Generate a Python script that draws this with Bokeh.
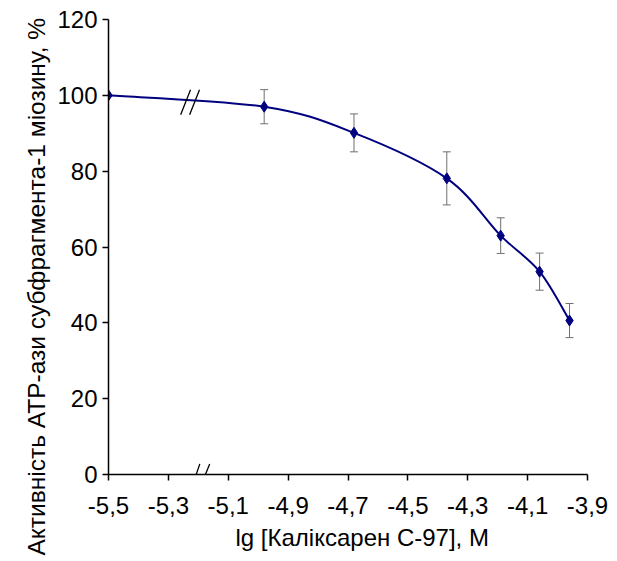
import numpy as np
from bokeh.plotting import figure
from bokeh.models import (ColumnDataSource, Range1d, FixedTicker, Whisker, TeeHead,
                          Title, Arrow, LinearAxis)
from bokeh.embed import file_html
from bokeh.resources import INLINE

# ---- data ----
log_conc = [-5.5, -4.98, -4.68, -4.37, -4.19, -4.06, -3.96]
activity = [100.0, 97.0, 90.1, 78.1, 63.0, 53.5, 40.6]
error = [0.0, 4.5, 5.0, 7.0, 4.7, 4.9, 4.5]

x_ticks = [-5.5, -5.3, -5.1, -4.9, -4.7, -4.5, -4.3, -4.1, -3.9]
x_tick_labels = ["-5,5", "-5,3", "-5,1", "-4,9", "-4,7", "-4,5", "-4,3", "-4,1", "-3,9"]
y_ticks = [0, 20, 40, 60, 80, 100, 120]

x_title = "lg [Каліксарен С-97], М"
y_title = "Активність АТР-ази субфрагмента-1 міозину, %"

FONT = "Liberation Sans"
NAVY = "#000080"

W, H = 617, 561
L, R, T, B = 108, 30, 19, 87
p = figure(width=W, height=H, x_range=Range1d(-5.5, -3.9), y_range=Range1d(0, 120),
           output_backend="svg", toolbar_location=None,
           min_border_left=L, min_border_right=R, min_border_top=T, min_border_bottom=B)
p.outline_line_color = None
p.grid.visible = False
p.background_fill_color = "white"
p.border_fill_color = "white"

# axes
for ax in (p.xaxis[0], p.yaxis[0]):
    ax.axis_line_color = "black"
    ax.axis_line_width = 1.5
    ax.major_tick_line_color = "black"
    ax.major_tick_line_width = 1.5
    ax.major_tick_in = 0
    ax.major_tick_out = 6
    ax.minor_tick_line_color = None
    ax.major_label_text_font = FONT
    ax.major_label_text_font_size = "24px"
    ax.major_label_text_color = "black"

p.xaxis[0].ticker = FixedTicker(ticks=x_ticks)
p.xaxis[0].major_label_overrides = {t: l for t, l in zip(x_ticks, x_tick_labels)}
p.xaxis[0].major_label_standoff = 16
p.yaxis[0].ticker = FixedTicker(ticks=y_ticks)
p.yaxis[0].major_label_standoff = 5

# invisible spacer axes that push the axis titles outward
def spacer(size):
    return LinearAxis(ticker=FixedTicker(ticks=[-1000.0]), axis_line_color=None,
                      major_tick_line_color=None, minor_tick_line_color=None,
                      major_tick_in=0, major_tick_out=size, minor_tick_in=0,
                      minor_tick_out=0, major_label_standoff=0)

p.add_layout(spacer(9), "left")
p.add_layout(spacer(8), "below")

# ---- smoothed curve (Bezier through the data points) ----
xs = np.array(log_conc)
ys = np.array(activity)
n = len(xs)
xp = np.concatenate([[xs[0]], xs, [xs[-1]]])
yp = np.concatenate([[ys[0]], ys, [ys[-1]]])
cx0 = xs[:-1] + (xp[2:n + 1] - xp[0:n - 1]) / 6.0
cy0 = ys[:-1] + (yp[2:n + 1] - yp[0:n - 1]) / 6.0
cx1 = xs[1:] - (xp[3:n + 2] - xp[1:n]) / 6.0
cy1 = ys[1:] - (yp[3:n + 2] - yp[1:n]) / 6.0
bez = ColumnDataSource(dict(x0=xs[:-1], y0=ys[:-1], x1=xs[1:], y1=ys[1:],
                            cx0=cx0, cy0=cy0, cx1=cx1, cy1=cy1))
p.bezier(x0="x0", y0="y0", x1="x1", y1="y1", cx0="cx0", cy0="cy0", cx1="cx1", cy1="cy1",
         source=bez, line_color=NAVY, line_width=2)

# error bars
err_src = ColumnDataSource(dict(
    x=log_conc[1:],
    lo=[a - e for a, e in zip(activity[1:], error[1:])],
    hi=[a + e for a, e in zip(activity[1:], error[1:])]))
wh = Whisker(base="x", lower="lo", upper="hi", source=err_src, dimension="height",
             line_color="#707070", line_width=1,
             upper_head=TeeHead(size=8, line_color="#707070", line_width=1),
             lower_head=TeeHead(size=8, line_color="#707070", line_width=1))
p.add_layout(wh)

# markers
p.scatter(log_conc, activity, marker="diamond", size=11, fill_color=NAVY, line_color=NAVY)

# ---- break marks ----
def slash(x0, y0, x1, y1):
    p.add_layout(Arrow(end=None, start=None, x_start=x0, y_start=y0, x_end=x1, y_end=y1,
                       line_color="black", line_width=1.3))

# on the curve
slash(-5.259, 94.9, -5.226, 101.5)
slash(-5.229, 94.9, -5.196, 101.5)
# on the x axis
slash(-5.223, -3.7, -5.195, 2.8)
slash(-5.195, -3.7, -5.162, 2.8)

# ---- axis titles ----
p.add_layout(Title(text=x_title, align="left", offset=127, standoff=10,
                   vertical_align="bottom",
                   text_font=FONT, text_font_size="24px", text_font_style="normal",
                   text_color="black"), "below")
p.add_layout(Title(text=y_title, align="left", offset=-81, standoff=10,
                   vertical_align="bottom",
                   text_font=FONT, text_font_size="24.5px", text_font_style="normal",
                   text_color="black"), "left")

open("out.html", "w").write(file_html(p, INLINE))
